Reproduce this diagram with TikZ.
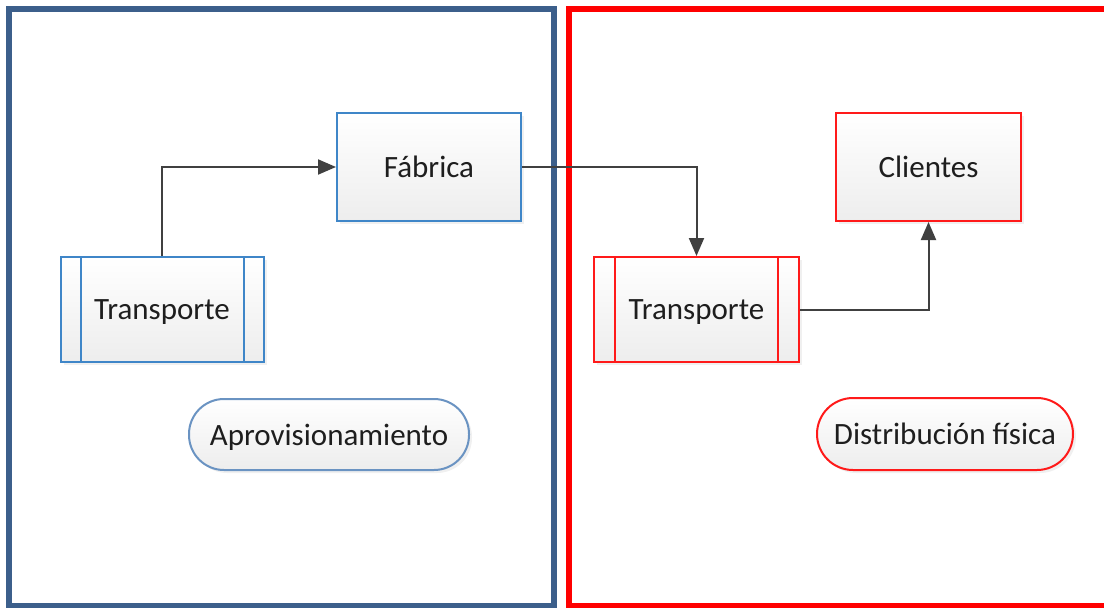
\documentclass[tikz,border=0pt]{standalone}
\usepackage{fontspec}
\setmainfont{Carlito}
\usetikzlibrary{arrows.meta,shadows}
\definecolor{frameblue}{HTML}{3C5F8B}
\definecolor{boxblue}{HTML}{3F86C8}
\definecolor{termblue}{HTML}{6A93C2}
\definecolor{boxred}{HTML}{FF1A1A}
\definecolor{txt}{HTML}{1E1E1E}
\definecolor{conncol}{HTML}{404040}
\tikzset{
  base/.style={top color=white, bottom color=black!7, text=txt,
    font=\fontsize{31}{36}\selectfont, line width=2pt, inner sep=0pt, text depth=0pt,
    drop shadow={opacity=0.12, shadow xshift=3pt, shadow yshift=-3pt}},
  procbox/.style={base, rectangle, minimum width=184pt, minimum height=108pt},
  transbox/.style={base, rectangle, minimum width=203pt, minimum height=105pt},
  termbox/.style={base, rectangle, rounded corners=35pt, minimum height=71pt},
  conn/.style={draw=conncol, line width=2pt, -{Triangle[length=18pt,width=15pt]}},
  sideline/.style={line width=2pt},
  frame/.style={line width=6pt}
}
\begin{document}
\begin{tikzpicture}[x=1pt,y=-1pt]
\useasboundingbox (0,0) rectangle (1104,608);
\clip (0,0) rectangle (1104,608);
% frames
\draw[frame, draw=frameblue] (8.5,9) rectangle (553.5,606);
\draw[frame, draw=red] (568.5,9) rectangle (1110,606);
% nodes
\node[procbox, draw=boxblue] (fab) at (429,167) {Fábrica};
\node[transbox, draw=boxblue] (t1) at (162,309.5) {Transporte};
\draw[sideline, draw=boxblue] ([xshift=21pt]t1.north west) -- ([xshift=21pt]t1.south west);
\draw[sideline, draw=boxblue] ([xshift=-21pt]t1.north east) -- ([xshift=-21pt]t1.south east);
\node[transbox, draw=boxred, minimum width=205pt] (t2) at (696.5,309.5) {Transporte};
\draw[sideline, draw=boxred] ([xshift=22pt]t2.north west) -- ([xshift=22pt]t2.south west);
\draw[sideline, draw=boxred] ([xshift=-22pt]t2.north east) -- ([xshift=-22pt]t2.south east);
\node[procbox, draw=boxred, minimum width=185pt] (cli) at (928.5,167) {Clientes};
\node[termbox, draw=termblue, minimum width=280pt] (apr) at (329,434.5) {Aprovisionamiento};
\node[termbox, draw=boxred, minimum width=256pt, minimum height=72pt, rounded corners=36pt] (dis) at (945,434) {Distribución física};
% connectors
\draw[conn] (t1.north) |- (fab.west);
\draw[conn] (fab.east) -| (t2.north);
\draw[conn] (t2.east) -| (cli.south);
\end{tikzpicture}
\end{document}
